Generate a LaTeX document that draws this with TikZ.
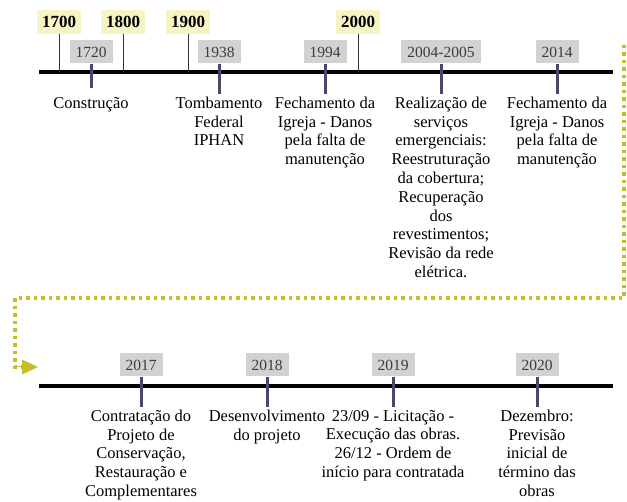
\documentclass[tikz,border=0pt]{standalone}
\usepackage{fontspec}
\setmainfont{Liberation Serif}
\usepackage{xcolor}
\usetikzlibrary{arrows.meta}
\usetikzlibrary{positioning}
\definecolor{loopyellow}{RGB}{198,190,40}
\definecolor{paleyellow}{RGB}{246,243,196}
\definecolor{boxgray}{RGB}{210,210,212}
\definecolor{yeartext}{RGB}{60,60,60}
\definecolor{tickpurple}{RGB}{74,72,104}
\tikzset{
     yearbox/.style={
           rectangle,
           fill=boxgray,
           text=yeartext,
           minimum height=23pt,
           inner xsep=6pt,
           inner ysep=0pt,
           font=\fontsize{15.5}{15.5}\selectfont,
           },
     centurybox/.style={
           rectangle,
           fill=paleyellow,
           minimum height=24pt,
           inner xsep=5pt,
           inner ysep=0pt,
           font=\fontsize{17}{17}\selectfont\bfseries,
           },
     eventtext/.style={
           align=center,
           inner sep=0pt,
           anchor=north,
           font=\fontsize{16.5}{18.8}\selectfont,
           },
     timeline/.style={line width=4pt},
     evtick/.style={tickpurple, line width=3pt},
     ctick/.style={black!80, line width=0.8pt},
     loopline/.style={loopyellow, line width=3.5pt, dash pattern=on 3.5pt off 4pt},
}

\begin{document}
\begin{tikzpicture}[x=1pt,y=-1pt]
	\useasboundingbox (0,0) rectangle (627,502);

	%top row
	\coordinate (ta) at (39,72);
	\coordinate (tb) at (613,72);
	\draw[timeline] (ta) -- (tb);

	\node[centurybox] (c1700) at (59,22) {1700};
	\node[centurybox] (c1800) at (123,22) {1800};
	\node[centurybox] (c1900) at (188,22) {1900};
	\node[centurybox] (c2000) at (358,22) {2000};
	\foreach \c in {c1700,c1800,c1900,c2000}
		\draw[ctick] (\c.south) -- (\c.south |- ta);

	\node[yearbox] (y1720) at (91,52) {1720};
	\node[yearbox] (y1938) at (219,52) {1938};
	\node[yearbox] (y1994) at (325,52) {1994};
	\node[yearbox] (y2004) at (441,52) {2004-2005};
	\node[yearbox] (y2014) at (557,52) {2014};

	\draw[evtick] (y1720.south) -- ++(0,24);
	\foreach \y in {y1938,y1994,y2004,y2014}
		\draw[evtick] (\y.south) -- ++(0,30);

	\node[eventtext, below=33pt of y1720.south] (e1720) {Construção};
	\node[eventtext, below=33pt of y1938.south] (e1938) {Tombamento\\ Federal\\ IPHAN};
	\node[eventtext, below=33pt of y1994.south] (e1994) {Fechamento da\\ Igreja - Danos\\ pela falta de\\ manutenção};
	\node[eventtext, below=33pt of y2004.south] (e2004) {Realização de\\ serviços\\ emergenciais:\\
										Reestruturação\\ da cobertura;\\ Recuperação\\
										dos\\ revestimentos;\\ Revisão da rede\\ elétrica.};
	\node[eventtext, below=33pt of y2014.south] (e2014) {Fechamento da\\ Igreja - Danos\\ pela falta de\\ manutenção};

	%dotted link between rows
	\coordinate (l1) at (624,45);
	\coordinate (l2) at (624,298);
	\coordinate (l3) at (15,298);
	\coordinate (l4) at (15,367);
	\coordinate (l5) at (38,367);
	\draw[loopline] (l1) -- (l2) -- (l3) -- (l4) -- (l5 -| 22,0);
	\draw[loopyellow, line width=0pt, -{Triangle[length=16pt,width=15pt]}] (l4) -- (l5);

	%bottom row
	\coordinate (ba) at (39,386);
	\coordinate (bb) at (613,386);
	\draw[timeline] (ba) -- (bb);

	\node[yearbox] (y2017) at (141,365) {2017};
	\node[yearbox] (y2018) at (267,365) {2018};
	\node[yearbox] (y2019) at (393,365) {2019};
	\node[yearbox] (y2020) at (537,365) {2020};
	\foreach \y in {y2017,y2018,y2019,y2020}
		\draw[evtick] (\y.south) -- ++(0,30);

	\node[eventtext, below=33pt of y2017.south] (e2017) {Contratação do\\ Projeto de\\ Conservação,\\ Restauração e\\ Complementares};
	\node[eventtext, below=33pt of y2018.south] (e2018) {Desenvolvimento\\ do projeto};
	\node[eventtext, below=33pt of y2019.south] (e2019) {23/09 - Licitação -\\ Execução das obras.\\ 26/12 - Ordem de\\ início para contratada};
	\node[eventtext, below=33pt of y2020.south] (e2020) {Dezembro:\\ Previsão\\ inicial de\\ término das\\ obras};
\end{tikzpicture}
\end{document}
